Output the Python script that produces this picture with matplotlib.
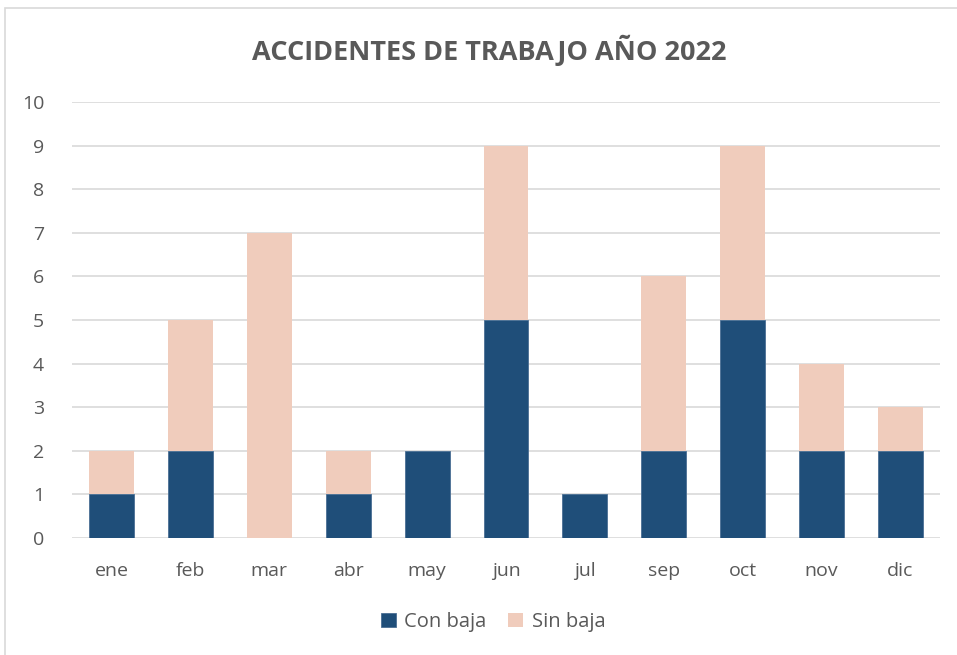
import matplotlib.pyplot as plt
from matplotlib.patches import Rectangle

# Data
months = ['ene', 'feb', 'mar', 'abr', 'may', 'jun', 'jul', 'sep', 'oct', 'nov', 'dic']
con_baja = [1, 2, 0, 1, 2, 5, 1, 2, 5, 2, 2]
sin_baja = [1, 3, 7, 1, 0, 4, 0, 4, 4, 2, 1]

BLUE = '#1F4E79'
PEACH = '#F0CCBC'
TEXT = '#595959'

plt.rcParams['font.family'] = ['Open Sans', 'DejaVu Sans']

fig = plt.figure(figsize=(9.57, 6.55), dpi=100)
ax = fig.add_axes([72 / 957, 1 - 538 / 655, 868 / 957, 436 / 655])

# light outer border (chart frame, cut at right/bottom)
fig.patches.append(Rectangle((5 / 957, -0.1), 1.2, 0.1 + (1 - 8 / 655),
                             transform=fig.transFigure, fill=False,
                             edgecolor='#D9D9D9', linewidth=1.2))

x = range(len(months))
ax.bar(x, con_baja, width=0.57, color=BLUE, edgecolor='#4A6F94', linewidth=0.6,
       label='Con baja', zorder=3)
ax.bar(x, sin_baja, width=0.57, bottom=con_baja, color=PEACH, linewidth=0,
       label='Sin baja', zorder=3)

ax.set_xlim(-0.5, len(months) - 0.5)
ax.set_ylim(0, 10)
ax.set_yticks(range(0, 11))
ax.set_xticks(list(x))
ax.set_xticklabels(months)
ax.grid(axis='y', color='#D9D9D9', linewidth=1.2, zorder=0)
for s in ax.spines.values():
    s.set_visible(False)
ax.tick_params(length=0, colors=TEXT, labelsize=14)
ax.tick_params(axis='x', pad=17)
ax.tick_params(axis='y', pad=20)

fig.text(489 / 957, 1 - 50 / 655, 'ACCIDENTES DE TRABAJO AÑO 2022', ha='center', va='center',
         fontsize=19.5, fontweight='bold', color=TEXT)

leg = fig.legend(loc='center', bbox_to_anchor=(493 / 957, 1 - 622 / 655), ncol=2, frameon=False,
                 fontsize=14.5, handlelength=0.75, handleheight=0.75, columnspacing=1.1,
                 handletextpad=0.4)
for t in leg.get_texts():
    t.set_color(TEXT)

fig.savefig('out.png', dpi=100)
